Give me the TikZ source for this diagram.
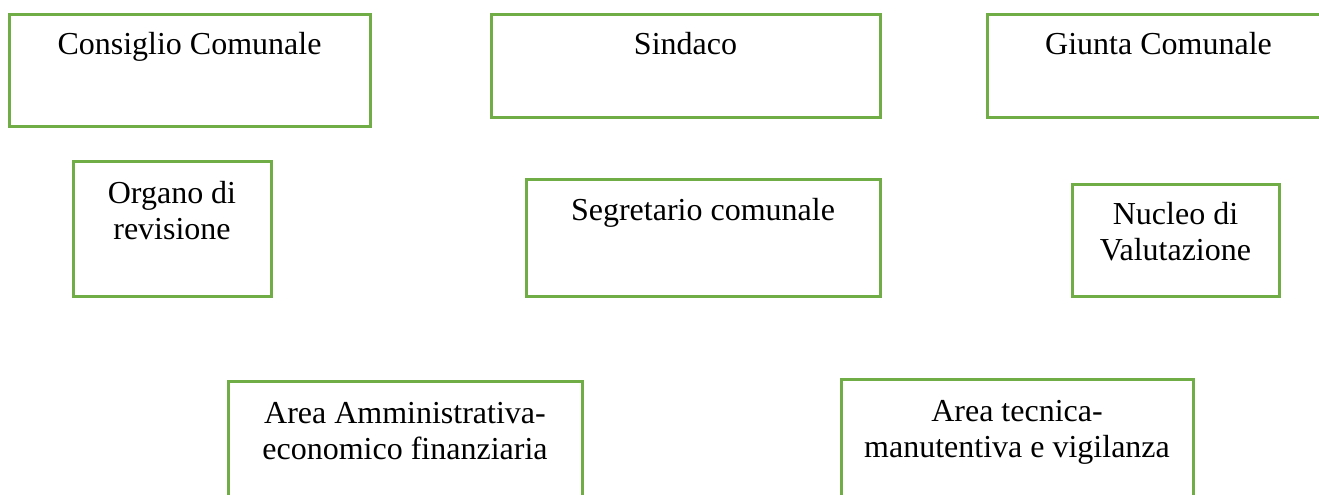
\documentclass[tikz,border=0pt]{standalone}
\usepackage{fontspec}
\setmainfont{Liberation Serif}
\usetikzlibrary{positioning}
\definecolor{boxgreen}{RGB}{112,173,71}
\tikzset{
	box/.style={draw=boxgreen, line width=2.25pt, inner sep=0pt, rectangle},
	txt/.style={inner sep=0pt, align=center, font=\fontsize{24}{27}\selectfont}
}
\begin{document}
\begin{tikzpicture}[x=0.75pt, y=-0.75pt]
	\useasboundingbox (0,0) rectangle (1319,494);
	\clip (0,0) rectangle (1319,494);

	% top row
	\node (cc) [box, minimum width=270.75pt, minimum height=84pt] at (189.5,70) {};
	\node (sind) [box, minimum width=291.75pt, minimum height=77.25pt] at (685.5,65.5) {};
	\node (gc) [box, minimum width=257.25pt, minimum height=77.25pt] at (1158.5,65.5) {};

	% middle row
	\node (rev) [box, minimum width=148.5pt, minimum height=101.25pt] at (172,228.5) {};
	\node (segr) [box, minimum width=265.5pt, minimum height=87.75pt] at (703,237.5) {};
	\node (nucl) [box, minimum width=155.25pt, minimum height=84pt] at (1175.5,240) {};

	% bottom row
	\node (amm) [box, minimum width=265.5pt, minimum height=104.25pt] at (405,450.5) {};
	\node (tec) [box, minimum width=264pt, minimum height=105.75pt] at (1017,449.5) {};

	\node (cc-t) [txt, below=15pt of cc.north] {Consiglio Comunale};
	\node (sind-t) [txt, below=15pt of sind.north] {Sindaco};
	\node (gc-t) [txt, below=15pt of gc.north] {Giunta Comunale};
	\node (rev-t) [txt, below=16.5pt of rev.north] {Organo di\\revisione};
	\node (segr-t) [txt, below=15.75pt of segr.north] {Segretario comunale};
	\node (nucl-t) [txt, below=15pt of nucl.north] {Nucleo di\\Valutazione};
	\node (amm-t) [txt, below=17.25pt of amm.north] {Area Amministrativa-\\economico finanziaria};
	\node (tec-t) [txt, below=17.25pt of tec.north] {Area tecnica-\\manutentiva e vigilanza};
\end{tikzpicture}
\end{document}
